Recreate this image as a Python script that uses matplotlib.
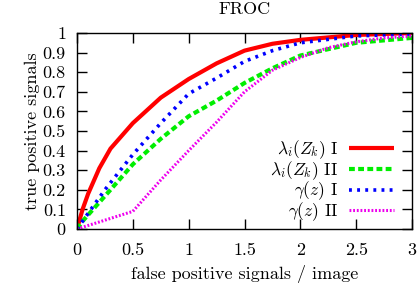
import matplotlib
matplotlib.use("Agg")
import matplotlib.pyplot as plt
from matplotlib.ticker import FuncFormatter, MultipleLocator

plt.rcParams.update({
    "font.family": "serif", "font.serif": ["cmr10"],
    "mathtext.fontset": "cm", "axes.formatter.use_mathtext": True,
    "font.size": 13,
})

# FROC curves
red_x = [0, 0.05, 0.1, 0.2, 0.3, 0.5, 0.75, 1.0, 1.25, 1.5, 1.75, 2.0, 2.5, 3.0]
red_y = [0, 0.10, 0.18, 0.31, 0.41, 0.54, 0.67, 0.765, 0.845, 0.91, 0.945, 0.965, 0.99, 1.0]
grn_x = [0, 0.05, 0.3, 0.5, 0.75, 1.0, 1.25, 1.5, 1.75, 2.0, 2.5, 3.0]
grn_y = [0, 0.04, 0.20, 0.33, 0.46, 0.575, 0.655, 0.745, 0.82, 0.885, 0.95, 0.975]
blu_x = [0, 0.05, 0.25, 0.5, 0.75, 1.0, 1.25, 1.5, 1.75, 2.0, 2.5, 3.0]
blu_y = [0, 0.04, 0.20, 0.38, 0.54, 0.69, 0.77, 0.855, 0.91, 0.95, 0.985, 0.995]
mag_x = [0, 0.5, 0.75, 1.0, 1.25, 1.5, 1.75, 2.0, 2.25, 2.5, 2.75, 3.0]
mag_y = [0, 0.09, 0.25, 0.40, 0.545, 0.70, 0.81, 0.875, 0.925, 0.955, 0.975, 0.985]
labels = [r"$\lambda_i(Z_k)$ I", r"$\lambda_i(Z_k)$ II", r"$\gamma(z)$ I", r"$\gamma(z)$ II"]

fig = plt.figure(figsize=(4.2, 2.83), dpi=100)
ax = fig.add_axes([0.1833, 0.1908, 0.7977, 0.6926])

ax.plot(red_x, red_y, color="#ff0000", lw=3.0, solid_capstyle="butt", label=labels[0])
ax.plot(grn_x, grn_y, color="#00ee00", lw=3.0, dashes=(1.4, 0.8), label=labels[1])
ax.plot(blu_x, blu_y, color="#0000ff", lw=2.6, dashes=(0.8, 1.45), label=labels[2])
ax.plot(mag_x, mag_y, color="#ee00ee", lw=2.2, dashes=(0.6, 0.6), label=labels[3])

ax.set_xlim(0, 3)
ax.set_ylim(0, 1)
ax.xaxis.set_major_locator(MultipleLocator(0.5))
ax.yaxis.set_major_locator(MultipleLocator(0.1))
fmt = FuncFormatter(lambda v, p: f"{v:g}")
ax.xaxis.set_major_formatter(fmt)
ax.yaxis.set_major_formatter(fmt)
ax.tick_params(direction="in", length=7, width=1.0, top=True, right=True, labelsize=13)
ax.tick_params(axis="x", pad=10)
ax.tick_params(axis="y", pad=8)
for s in ax.spines.values():
    s.set_linewidth(1.0)

ax.set_title("FROC", fontsize=13, pad=13.5)
ax.set_xlabel("false positive signals / image", fontsize=13, labelpad=5)
ax.set_ylabel("true positive signals", fontsize=13, labelpad=2)

ax.legend(loc="lower right", markerfirst=False, frameon=False, handlelength=2.6,
          labelspacing=-0.12, borderaxespad=0.0, borderpad=0.0, handletextpad=0.6,
          fontsize=12.5, bbox_to_anchor=(0.946, 0.03))

fig.savefig("out.png", dpi=100)
